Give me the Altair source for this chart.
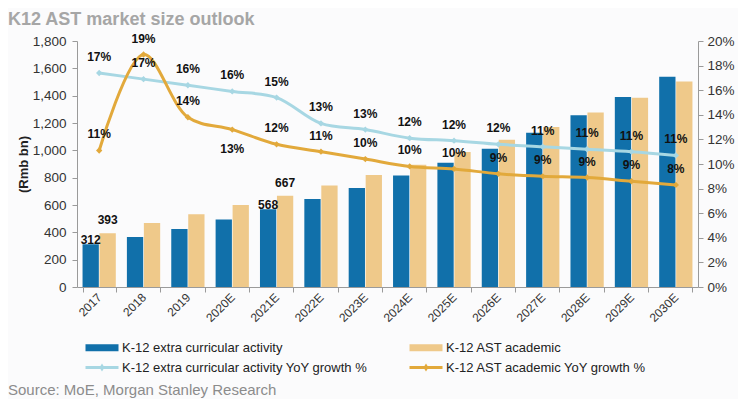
import altair as alt
import pandas as pd

# ---- data ----
years = ["2017", "2018", "2019", "2020E", "2021E", "2022E", "2023E", "2024E",
         "2025E", "2026E", "2027E", "2028E", "2029E", "2030E"]
extra_bn = [312, 366, 424, 493, 568, 644, 724, 815, 910, 1012, 1129, 1256, 1390, 1539]
academic_bn = [393, 468, 532, 600, 667, 742, 820, 895, 988, 1078, 1170, 1276, 1385, 1503]
extra_yoy = [17.4, 16.9, 16.4, 15.9, 15.4, 13.3, 12.8, 12.1, 11.9, 11.6, 11.4, 11.2, 11.0, 10.7]
academic_yoy = [11.1, 18.9, 13.8, 12.8, 11.6, 11.0, 10.4, 9.8, 9.6, 9.2, 9.0, 8.9, 8.6, 8.3]
bar_label_years = ["2017", "2021E"]
below_label_year = "2020E"

bar_series = ["K-12 extra curricular activity", "K-12 AST academic"]
line_series = ["K-12 extra curricular activity YoY growth %", "K-12 AST academic YoY growth %"]
bar_colors = ["#1170aa", "#efc98a"]
line_colors = ["#a7d7e3", "#e2a93b"]
left_ticks = list(range(0, 1801, 200))
right_ticks = list(range(0, 21, 2))

title_text = "K12 AST market size outlook"
y_title = "(Rmb bn)"
source_text = "Source: MoE, Morgan Stanley Research"

bars_df = pd.DataFrame({
    "year": years * 2,
    "series": [bar_series[0]] * len(years) + [bar_series[1]] * len(years),
    "value": extra_bn + academic_bn,
})
lines_df = pd.DataFrame({
    "year": years * 2,
    "series": [line_series[0]] * len(years) + [line_series[1]] * len(years),
    "value": extra_yoy + academic_yoy,
})

FONT = "Liberation Sans"
AXIS_GRAY = "#9a9a9a"

x_enc = alt.X(
    "year:N", sort=years,
    scale=alt.Scale(domain=years, paddingInner=0.25, paddingOuter=0.125),
    axis=alt.Axis(title=None, labelAngle=-45, labelAlign="right", labelBaseline="middle",
                  tickBand="extent", tickSize=5, labelPadding=3, labelFontSize=12,
                  labelColor="#333333", domainColor=AXIS_GRAY, tickColor=AXIS_GRAY),
)

# legend is filled column by column: column 1 = extra curricular, column 2 = AST academic
legend_domain = [bar_series[0], line_series[0], bar_series[1], line_series[1]]
legend_colors = [bar_colors[0], line_colors[0], bar_colors[1], line_colors[1]]
color_scale = alt.Scale(domain=legend_domain, range=legend_colors)

BAR_SYM = "M-1,-0.58H4.5V0.58H-1Z"
LINE_SYM = "M-1,-0.25H4.5V0.25H-1Z M1.33,0L1.75,-0.67L2.17,0L1.75,0.67Z"
shapes = [BAR_SYM, LINE_SYM, BAR_SYM, LINE_SYM]
legend_props = dict(title=None, orient="none", legendX=8, legendY=300, columns=2,
                    symbolSize=144, symbolStrokeWidth=0, symbolOpacity=1,
                    labelFontSize=13, labelFont=FONT, labelColor="#222222",
                    labelLimit=400, rowPadding=6, columnPadding=41, gridAlign="all",
                    labelOffset=24)
color_enc = alt.Color("series:N", scale=color_scale, legend=alt.Legend(**legend_props))

left_axis = alt.Axis(orient="left", values=left_ticks, labelExpr="format(datum.value, ',')",
                     grid=False, title=y_title, titleX=-50, titleY=123, titleFontSize=13,
                     titleFontWeight="bold", titleColor="#222222", titleBaseline="alphabetic",
                     labelFontSize=13.5, labelColor="#333333", labelPadding=6, tickSize=5,
                     domainColor=AXIS_GRAY, tickColor=AXIS_GRAY)
right_axis = alt.Axis(orient="right", values=right_ticks, labelExpr="datum.value + '%'",
                      grid=False, title=None, labelFontSize=13.5, labelColor="#333333",
                      labelPadding=4, tickSize=5, domainColor=AXIS_GRAY, tickColor=AXIS_GRAY)

y_left = alt.Y("value:Q", scale=alt.Scale(domain=[0, 1800]), axis=left_axis)
y_right = alt.Y("value:Q", scale=alt.Scale(domain=[0, 20]), axis=right_axis)
x_off = alt.XOffset("series:N", sort=bar_series,
                    scale=alt.Scale(domain=bar_series, paddingInner=0.04))

bars = alt.Chart(bars_df).mark_bar().encode(
    x=x_enc, xOffset=x_off, y=y_left, color=color_enc)
bar_lbl_a = alt.Chart(bars_df).transform_filter(
    alt.FieldOneOfPredicate(field="year", oneOf=bar_label_years)
).transform_filter(alt.datum.series == bar_series[0]).mark_text(
    baseline="middle", dy=-4, fontSize=12, fontWeight="bold", color="#111111", font=FONT
).encode(x=x_enc, xOffset=x_off, y=y_left, text=alt.Text("value:Q", format=","))
bar_lbl_b = alt.Chart(bars_df).transform_filter(
    alt.FieldOneOfPredicate(field="year", oneOf=bar_label_years)
).transform_filter(alt.datum.series == bar_series[1]).mark_text(
    baseline="middle", dy=-13, fontSize=12, fontWeight="bold", color="#111111", font=FONT
).encode(x=x_enc, xOffset=x_off, y=y_left, text=alt.Text("value:Q", format=","))

left = alt.layer(bars, bar_lbl_a, bar_lbl_b)

lines = alt.Chart(lines_df).mark_line(interpolate="catmull-rom", strokeWidth=3).encode(
    x=x_enc, y=y_right, color=color_enc, detail="series:N")
points = alt.Chart(lines_df).mark_point(shape="diamond", filled=True, size=40, opacity=1).encode(
    x=x_enc, y=y_right, color=color_enc)

lbl_base = alt.Chart(lines_df).transform_calculate(
    label="format(datum.value, '.0f') + '%'")
line_lbl = lbl_base.transform_filter(
    (alt.datum.series != line_series[1]) | (alt.datum.year != below_label_year)
).mark_text(baseline="middle", dy=-16, fontSize=12, fontWeight="bold",
            color="#111111", font=FONT).encode(x=x_enc, y=y_right, text="label:N")
line_lbl_below = lbl_base.transform_filter(
    (alt.datum.series == line_series[1]) & (alt.datum.year == below_label_year)
).mark_text(baseline="middle", dy=19, fontSize=12, fontWeight="bold",
            color="#111111", font=FONT).encode(x=x_enc, y=y_right, text="label:N")

legend_layer = alt.Chart(lines_df).transform_filter("false").mark_point(
    filled=True, opacity=1).encode(
    color=color_enc,
    shape=alt.Shape("series:N", scale=alt.Scale(domain=legend_domain, range=shapes),
                    legend=alt.Legend(**legend_props)),
)

right = alt.layer(lines, points, line_lbl, line_lbl_below, legend_layer)

one = pd.DataFrame({"k": [0]})
title = alt.Chart(one).mark_text(
    text=title_text, align="left", baseline="alphabetic", fontSize=18, fontWeight="bold",
    color="#a6a6a6", font=FONT).encode(x=alt.value(-69), y=alt.value(-16))
source = alt.Chart(one).mark_text(
    text=source_text, align="left", baseline="middle", fontSize=15,
    color="#8c8c8c", font=FONT).encode(x=alt.value(-69), y=alt.value(349))

chart = alt.layer(left, right, title, source).resolve_scale(y="independent").properties(
    width=621, height=246,
    autosize=alt.AutoSizeParams(type="none"),
    padding={"left": 69, "top": 33, "right": 40, "bottom": 112},
    background="#fbfbfc",
).configure(font=FONT).configure_view(stroke=None)

chart.save("out.html", embed_options={"renderer": "svg", "actions": False})
